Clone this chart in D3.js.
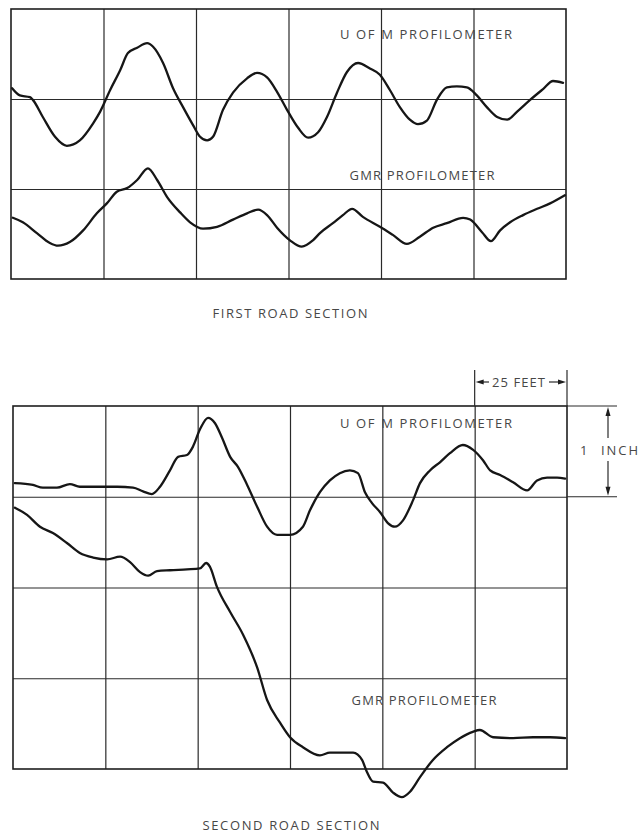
<!DOCTYPE html>
<html>
<head>
<meta charset="utf-8">
<script src="https://cdn.jsdelivr.net/npm/d3@7"></script>
<style>
  body { margin: 0; background: #fff; }
  svg { display: block; }
  .lbl { font-family: "Open Sans", sans-serif; fill: #474747; font-size: 13px; }
</style>
</head>
<body>
<svg id="chart" width="639" height="836"></svg>
<script>
"use strict";

// distance along road (feet), profile height (inches)
const gridFeet = [25, 50, 75, 100, 125];

const firstUofM = [
  [0.3,2.12],[2.4,2.04],[5.1,2.02],[5.9,1.99],[8.6,1.80],[11.9,1.58],[15.1,1.48],[18.6,1.54],
  [22.2,1.73],[24.1,1.86],[26.8,2.10],[29.5,2.32],[31.6,2.51],[34.1,2.57],[36.8,2.62],[38.4,2.58],
  [41.1,2.40],[43.8,2.12],[46.5,1.91],[49.2,1.71],[51.1,1.58],[53.0,1.54],[54.6,1.58],[57.3,1.88],
  [60.0,2.07],[63.8,2.23],[66.5,2.29],[69.2,2.24],[71.9,2.08],[74.6,1.88],[77.6,1.68],[80.3,1.57],
  [83.0,1.63],[85.4,1.80],[88.1,2.07],[90.8,2.30],[93.8,2.40],[97.0,2.34],[99.7,2.27],[102.4,2.10],
  [105.1,1.91],[107.8,1.77],[110.0,1.72],[112.4,1.76],[115.1,1.99],[117.8,2.13],[120.5,2.14],
  [123.2,2.13],[125.9,2.04],[128.6,1.91],[131.4,1.80],[134.1,1.77],[136.8,1.86],[140.3,1.99],
  [143.8,2.11],[146.5,2.20],[149.2,2.18]
];

const firstGMR = [
  [0.5,0.68],[3.2,0.63],[7.0,0.51],[10.5,0.40],[12.7,0.37],[15.9,0.41],[19.5,0.54],[23.2,0.73],
  [25.9,0.84],[28.6,0.97],[31.4,1.01],[34.1,1.10],[37.0,1.23],[39.5,1.10],[42.2,0.91],[45.7,0.74],
  [48.4,0.63],[51.9,0.56],[55.7,0.58],[60.0,0.66],[63.8,0.73],[66.8,0.77],[69.2,0.71],[71.9,0.57],
  [75.4,0.43],[78.6,0.36],[81.6,0.43],[83.5,0.51],[87.0,0.62],[89.7,0.71],[92.2,0.78],[95.1,0.69],
  [99.7,0.58],[103.2,0.49],[107.0,0.39],[110.5,0.47],[114.1,0.57],[117.8,0.62],[122.2,0.68],
  [124.1,0.66],[127.3,0.52],[129.7,0.42],[132.2,0.54],[134.9,0.63],[138.4,0.71],[142.2,0.78],
  [145.7,0.84],[149.7,0.93]
];

const secondUofM = [
  [0.5,3.15],[5.4,3.13],[8.1,3.10],[11.9,3.10],[15.4,3.14],[18.1,3.11],[23.6,3.11],[28.2,3.11],
  [32.5,3.10],[35.2,3.06],[37.6,3.03],[39.8,3.11],[42.5,3.29],[44.7,3.44],[47.1,3.46],[48.7,3.55],
  [50.6,3.74],[52.8,3.87],[54.7,3.81],[56.6,3.65],[58.8,3.44],[60.9,3.33],[63.4,3.13],[66.1,2.89],
  [68.8,2.67],[71.5,2.58],[75.0,2.58],[78.5,2.67],[80.4,2.85],[83.1,3.05],[85.8,3.18],[88.5,3.26],
  [91.2,3.29],[93.4,3.26],[95.3,3.05],[97.2,2.93],[99.4,2.83],[101.5,2.71],[103.4,2.67],[105.6,2.74],
  [108.3,2.96],[110.2,3.15],[112.9,3.29],[115.6,3.38],[118.3,3.48],[121.8,3.57],[124.5,3.52],
  [127.3,3.40],[129.2,3.29],[131.9,3.24],[135.4,3.16],[139.2,3.07],[141.9,3.18],[144.6,3.21],
  [147.3,3.21],[149.5,3.20]
];

const secondGMR = [
  [0.5,2.88],[3.8,2.80],[7.3,2.67],[10.8,2.60],[14.6,2.49],[18.1,2.38],[21.7,2.33],[25.5,2.31],
  [29.0,2.34],[31.7,2.28],[34.4,2.17],[36.6,2.13],[39.0,2.18],[42.5,2.19],[47.1,2.20],[50.6,2.21],
  [52.3,2.27],[53.3,2.23],[55.2,2.01],[58.8,1.73],[62.3,1.48],[66.1,1.12],[68.8,0.76],[72.3,0.51],
  [75.0,0.35],[78.5,0.24],[83.1,0.15],[85.8,0.18],[92.1,0.18],[94.5,0.10],[95.8,-0.03],[97.5,-0.14],
  [100.2,-0.15],[102.9,-0.26],[105.3,-0.31],[107.5,-0.25],[110.2,-0.09],[113.7,0.10],[117.5,0.24],
  [121.0,0.34],[124.5,0.41],[126.4,0.43],[130.0,0.35],[135.4,0.34],[140.8,0.35],[145.4,0.35],
  [149.5,0.34]
];

const panels = [
  { inches: 3, x0: 11, x1: 566, y0: 9, y1: 279, series: [firstUofM, firstGMR],
    labels: [["U OF M PROFILOMETER", 426, 39, 172], ["GMR PROFILOMETER", 422, 180, 145]],
    title: ["FIRST ROAD SECTION", 290, 318, 155] },
  { inches: 4, x0: 13, x1: 567, y0: 406, y1: 769, series: [secondUofM, secondGMR],
    labels: [["U OF M PROFILOMETER", 426, 428, 172], ["GMR PROFILOMETER", 424, 705, 145]],
    title: ["SECOND ROAD SECTION", 291, 830, 177] }
];

const svg = d3.select("#chart");

panels.forEach(function(p, i) {
  let x = d3.scaleLinear().domain([0, 150]).range([p.x0, p.x1]);
  let y = d3.scaleLinear().domain([0, p.inches]).range([p.y1, p.y0]);
  let g = svg.append("g");

  // grid
  g.append("g").attr("transform", `translate(0,${p.y1})`)
    .call(d3.axisBottom(x).tickValues(gridFeet).tickSize(-(p.y1 - p.y0)).tickFormat(""))
    .call(a => a.select(".domain").remove())
    .selectAll("line").attr("stroke", "#2a2a2a").attr("stroke-width", 1.2);
  g.append("g").attr("transform", `translate(${p.x0},0)`)
    .call(d3.axisLeft(y).tickValues(d3.range(1, p.inches)).tickSize(-(p.x1 - p.x0)).tickFormat(""))
    .call(a => a.select(".domain").remove())
    .selectAll("line").attr("stroke", "#2a2a2a").attr("stroke-width", 1.2);

  // frame
  g.append("rect").attr("x", p.x0).attr("y", p.y0)
    .attr("width", p.x1 - p.x0).attr("height", p.y1 - p.y0)
    .attr("fill", "none").attr("stroke", "#1e1e1e").attr("stroke-width", 1.6);

  let line = d3.line().x(d => x(d[0])).y(d => y(d[1])).curve(d3.curveMonotoneX);
  g.selectAll(".trace").data(p.series).enter().append("path")
    .attr("class", "trace")
    .attr("d", line)
    .attr("fill", "none").attr("stroke", "#161616").attr("stroke-width", 2.3)
    .attr("stroke-linejoin", "round").attr("stroke-linecap", "round");

  p.labels.concat([p.title]).forEach(function(l) {
    g.append("text").attr("class", "lbl")
      .attr("x", l[1]).attr("y", l[2]).attr("text-anchor", "middle")
      .attr("textLength", l[3]).attr("lengthAdjust", "spacing")
      .text(l[0]);
  });

  p.x = x; p.y = y;
});

// dimension marks on the second section: 25 feet across, 1 inch up
const p2 = panels[1];
const dim = svg.append("g").attr("stroke", "#2a2a2a").attr("stroke-width", 1.2);
const xa = p2.x(125), xb = p2.x(150), ya = p2.y(4), yb = p2.y(3);
dim.append("line").attr("x1", xa).attr("x2", xa).attr("y1", 370).attr("y2", ya);
dim.append("line").attr("x1", xb).attr("x2", xb).attr("y1", 370).attr("y2", ya);
dim.append("line").attr("x1", xb).attr("x2", 617).attr("y1", ya).attr("y2", ya);
dim.append("line").attr("x1", xb).attr("x2", 617).attr("y1", yb).attr("y2", yb);
dim.append("line").attr("x1", xa + 4).attr("x2", 489).attr("y1", 382).attr("y2", 382);
dim.append("line").attr("x1", 549).attr("x2", xb - 4).attr("y1", 382).attr("y2", 382);
dim.append("line").attr("x1", 608).attr("x2", 608).attr("y1", ya + 4).attr("y2", 438);
dim.append("line").attr("x1", 608).attr("x2", 608).attr("y1", 461).attr("y2", yb - 4);

const arrow = (pts) => svg.append("path").attr("d", d3.line()(pts)).attr("fill", "#1e1e1e");
arrow([[xa + 1, 382], [xa + 9, 379.5], [xa + 9, 384.5]]);
arrow([[xb - 1, 382], [xb - 9, 379.5], [xb - 9, 384.5]]);
arrow([[608, ya + 1], [605.5, ya + 10], [610.5, ya + 10]]);
arrow([[608, yb - 1], [605.5, yb - 10], [610.5, yb - 10]]);

svg.append("text").attr("class", "lbl").attr("x", 518.5).attr("y", 387)
  .attr("text-anchor", "middle").attr("textLength", 53).attr("lengthAdjust", "spacing").text("25 FEET");
svg.append("text").attr("class", "lbl").attr("x", 580).attr("y", 455).text("1");
svg.append("text").attr("class", "lbl").attr("x", 601).attr("y", 455)
  .attr("textLength", 37).attr("lengthAdjust", "spacing").text("INCH");
</script>
</body>
</html>
